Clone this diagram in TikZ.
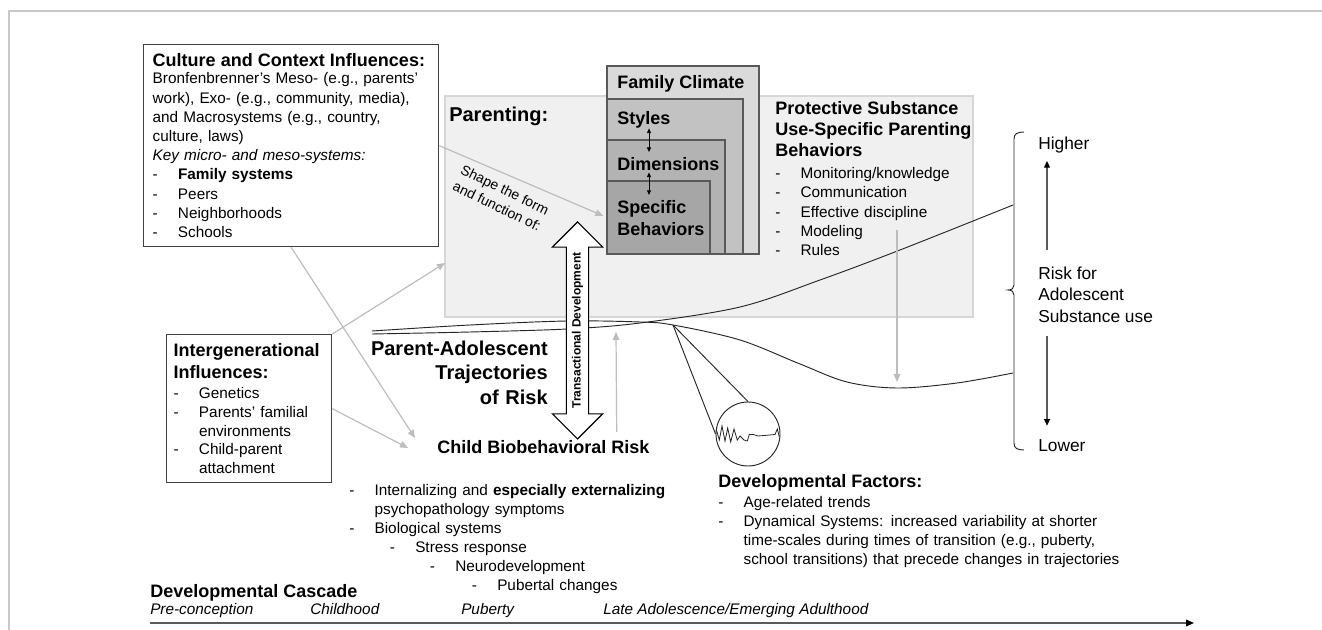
\documentclass[tikz,border=0pt]{standalone}
\usepackage{fontspec}
\setmainfont{Liberation Sans}
\usetikzlibrary{arrows.meta,shapes.arrows}

\definecolor{frameg}{HTML}{C8C8C8}
\definecolor{paleg}{HTML}{F0F0F0}
\definecolor{paredge}{HTML}{D6D6D6}
\definecolor{lineg}{HTML}{BDBDBD}
\definecolor{climg}{HTML}{DADADA}
\definecolor{styleg}{HTML}{C2C2C2}
\definecolor{dimg}{HTML}{B3B3B3}
\definecolor{specg}{HTML}{A6A6A6}
\definecolor{edgeg}{HTML}{595959}
\definecolor{boxedge}{HTML}{404040}
\definecolor{darkg}{HTML}{5A5A5A}

\newcommand{\bodyfont}{\fontsize{11.5}{14.4}\selectfont}
\newcommand{\headfont}{\fontsize{13.5}{15.8}\selectfont\bfseries}
\newcommand{\bigfont}{\fontsize{15}{18.4}\selectfont\bfseries}
\newcommand{\riskfont}{\fontsize{13}{16.1}\selectfont}
\newcommand{\dsh}{\makebox[19pt][l]{-}}
\newcommand{\dind}{\hspace*{19pt}}

\tikzset{
  panel/.style={draw=boxedge, line width=1pt, inner xsep=6.75pt, inner ysep=0pt, align=left, anchor=north west},
  parpanel/.style={draw=paredge, fill=paleg, line width=0.8pt, inner sep=0pt, outer sep=0pt, anchor=north west},
  climbox/.style={draw=edgeg, line width=0.8pt, inner sep=0pt, outer sep=0pt, anchor=north west},
  lbl/.style={inner sep=0pt, anchor=base west},
  blk/.style={inner sep=0pt, anchor=north west, align=left},
  greyarr/.style={draw=lineg, line width=0.9pt, -{Triangle[length=6pt,width=5pt,color=lineg]}},
  tinyarr/.style={black, line width=0.6pt, {Triangle[length=3.5pt,width=3pt]}-{Triangle[length=3.5pt,width=3pt]}},
  riskarr/.style={draw=darkg, line width=1pt, -{Triangle[length=5pt,width=4.5pt,color=black]}},
  traj/.style={black!85, line width=0.7pt},
}

\begin{document}
\begin{tikzpicture}[x=0.75pt, y=-0.75pt]
		%%%%% START %%%%%
		\fill[white] (0,0) rectangle (1322,630);
		\useasboundingbox (0,0) rectangle (1322,630);
		\draw[frameg, line width=1.2pt] (9,630) -- (9,11) -- (1322,11);
		
		% parenting panel and nested boxes
		\node[parpanel, minimum width=396pt, minimum height=165.75pt] (parbox) at (445,96) {};
		\node[lbl, font=\bigfont] (parlbl) at (449,121.2) {Parenting:};
		
		\node[climbox, fill=climg, minimum width=114pt, minimum height=141pt] (climate) at (607,66) {};
		\node[climbox, fill=styleg, minimum width=102pt, minimum height=116.25pt] (stylesbox) at (607,99) {};
		\node[climbox, fill=dimg, minimum width=88.5pt, minimum height=85.5pt] (dimsbox) at (607,140) {};
		\node[climbox, fill=specg, minimum width=77.25pt, minimum height=54.75pt] (specbox) at (607,181) {};
		
		\node[lbl, font=\headfont] (climlbl) at (617,88.4) {Family Climate};
		\node[lbl, font=\headfont] (styleslbl) at (617,124.4) {Styles};
		\node[lbl, font=\headfont] (dimslbl) at (617,170.4) {Dimensions};
		\node[blk, font=\fontsize{13.5}{16.5}\selectfont\bfseries] (speclbl) at (617,200.3) {Specific\\Behaviors};
		
		\coordinate (ax) at (649,0);
		\draw[tinyarr, shorten >=3.75pt] (styleslbl.south -| ax) -- (dimslbl.north -| ax);
		\draw[tinyarr, shorten <=1.2pt, shorten >=4pt] (dimslbl.south -| ax) -- (speclbl.north -| ax);
		
		\node[blk, text width=150pt, font=\bodyfont] (protect) at (775,101.3) {%
			{\headfont Protective Substance}\\[1.35pt]
			{\headfont Use-Specific Parenting}\\[1.35pt]
			{\headfont Behaviors}\\[2.1pt]
			\dsh Monitoring/knowledge\\
			\dsh Communication\\
			\dsh Effective discipline\\
			\dsh Modeling\\
			\dsh Rules};
		
		% trajectories
		\draw[traj] plot[smooth, tension=0.55] coordinates {(372,331) (470,325) (567,321) (640,322) (673,325) (740,340) (800,364) (847,382) (897,388) (957,383) (1013,373)};
		\draw[traj] plot[smooth, tension=0.55] coordinates {(372,334) (470,332) (567,329) (640,323) (740,307) (820,280) (900,250) (1013,205)};
		
		\coordinate (apex) at (673,325);
		\node[circle, draw=black!85, line width=0.7pt, minimum size=48pt, inner sep=0pt] (zoomc) at (748,434) {};
		\draw[traj] (apex) -- (zoomc.west);
		\draw[traj] (apex) -- (zoomc.north);
		\draw[black!85, line width=0.6pt] plot coordinates {(716.5,430) (719.3,440) (722,426) (725,441) (727.7,428) (730.7,442) (734,429) (737.3,440) (740,436) (744,440) (747.3,441) (749.3,434.5) (753.3,434.5) (758.3,436) (775,434.5) (777.3,429) (779.3,437)};
		
		\node[draw, double arrow, fill=white, rotate=90, minimum height=162.75pt, double arrow head extend=10.5pt, double arrow tip angle=90, inner xsep=0pt, inner ysep=3.7pt, text height=6.5pt, text depth=1.9pt, line width=0.8pt, font=\fontsize{9}{10}\selectfont\bfseries] (transdev) at (577.5,330.5) {Transactional Development};
		
		% left boxes
		\node[panel, text width=207.75pt, minimum height=151.5pt, font=\bodyfont] (culture) at (143,44) {%
			{\headfont Culture and Context Influences:}\\[-1.65pt]
			Bronfenbrenner's Meso- (e.g., parents'\\
			work), Exo- (e.g., community, media),\\
			and Macrosystems (e.g., country,\\
			culture, laws)\\
			\textit{Key micro- and meso-systems:}\\
			\dsh\textbf{Family systems}\\
			\dsh Peers\\
			\dsh Neighborhoods\\
			\dsh Schools};
		
		\node[panel, inner xsep=5.25pt, text width=113.25pt, minimum height=111pt, font=\fontsize{11.5}{14.1}\selectfont] (intergen) at (166,334) {%
			{\headfont Intergenerational}\\[2.4pt]
			{\headfont Influences:}\\[0.9pt]
			\dsh Genetics\\
			\dsh Parents' familial\\
			\dind environments\\
			\dsh Child-parent\\
			\dind attachment};
		
		\node[inner sep=0pt, anchor=north east, align=right, text width=180pt, font=\bigfont] (trajlbl) at (548,340.6) {Parent-Adolescent\\Trajectories\\of Risk};
		
		\node[lbl, font=\headfont] (child) at (437,453.4) {Child Biobehavioral Risk};
		\node[blk, text width=260pt, font=\fontsize{11.5}{14.25}\selectfont] (childlist) at (349,484.3) {%
			\dsh Internalizing and \textbf{especially externalizing}\\
			\dind psychopathology symptoms\\
			\dsh Biological systems\\
			\hspace*{30.5pt}\dsh Stress response\\
			\hspace*{60.5pt}\dsh Neurodevelopment\\
			\hspace*{92pt}\dsh Pubertal changes};
		
		\node[blk, text width=320pt, font=\fontsize{11.5}{14.25}\selectfont] (devfac) at (718,474.3) {%
			{\headfont Developmental Factors:}\\[0.75pt]
			\dsh Age-related trends\\
			\dsh Dynamical Systems: increased variability at shorter\\
			\dind time-scales during times of transition (e.g., puberty,\\
			\dind school transitions) that precede changes in trajectories};
		
		% grey influence arrows
		\coordinate (childin) at (415,438);
		\coordinate (childin2) at (408,448);
		\coordinate (parin) at (445,263);
		\coordinate (trajhit) at (616,332);
		\coordinate (protS) at (897,230);
		\coordinate (lowdip) at (897,382);
		\draw[greyarr, shorten >=3pt] (culture.east) -- (specbox.west);
		\draw[greyarr] (culture.south) -- (childin);
		\draw[greyarr] (intergen.east) -- (childin2);
		\draw[greyarr] (intergen.north east) -- (parin);
		\draw[greyarr, shorten <=6pt] ([xshift=55.1pt]child.north) -- (trajhit);
		\draw[greyarr] (protS) -- (lowdip);
		
		\node[rotate=-26, inner sep=0pt, align=center, font=\fontsize{10.5}{13.5}\selectfont] (shapetxt) at (501,198) {Shape the form\\and function of:};
		
		% risk scale
		\draw[traj] (1024,132) .. controls (1017,132) and (1014,134) .. (1014,139) -- (1014,285) .. controls (1014,288) and (1012,290) .. (1008,290) .. controls (1012,290) and (1014,292) .. (1014,295) -- (1014,443) .. controls (1014,448) and (1017,450) .. (1024,450);
		\node[lbl, font=\riskfont] (higher) at (1038,149.2) {Higher};
		\node[blk, font=\riskfont] (risk) at (1038,266.5) {Risk for\\Adolescent\\Substance use};
		\node[lbl, font=\riskfont] (lower) at (1038,451.2) {Lower};
		\draw[riskarr, shorten <=12pt, shorten >=6pt] ([xshift=6.75pt]risk.north west) -- ([xshift=6.75pt]higher.south west);
		\draw[riskarr, shorten <=9.75pt, shorten >=10pt] ([xshift=6.75pt]risk.south west) -- ([xshift=6.75pt]lower.north west);
		
		% cascade timeline
		\node[lbl, font=\headfont] (cascade) at (150,597.4) {Developmental Cascade};
		\node[lbl, font=\bodyfont\itshape] (pre) at (150,614.5) {Pre-conception};
		\node[lbl, font=\bodyfont\itshape] (childhood) at (310,614.5) {Childhood};
		\node[lbl, font=\bodyfont\itshape] (puberty) at (461,614.5) {Puberty};
		\node[lbl, font=\bodyfont\itshape] (late) at (603,614.5) {Late Adolescence/Emerging Adulthood};
		\coordinate (tlA) at (150,623);
		\coordinate (tlB) at (1194,623);
		\draw[darkg, line width=1.1pt, -{Triangle[length=6pt,width=5pt,color=black]}] (tlA) -- (tlB);
		%%%%% END %%%%%
\end{tikzpicture}
\end{document}
